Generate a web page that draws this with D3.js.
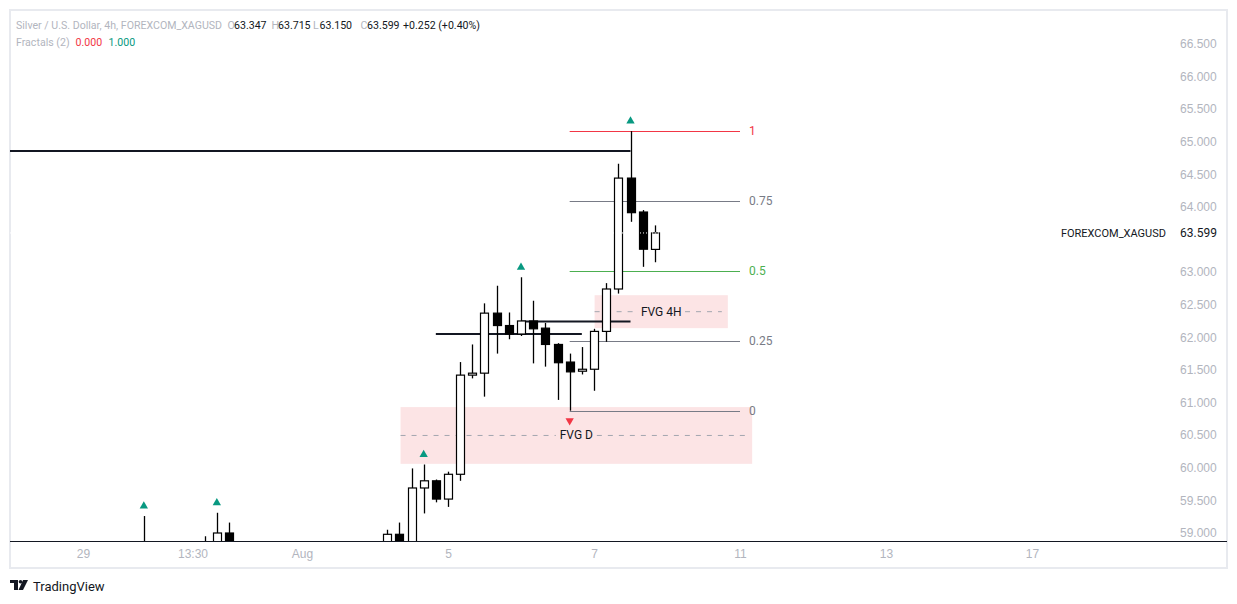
<!DOCTYPE html>
<html>
<head>
<meta charset="utf-8">
<script src="https://cdn.jsdelivr.net/npm/d3@7"></script>
<style>
  body { margin: 0; background: #fff; }
  svg { display: block; font-family: Roboto, "Liberation Sans", sans-serif; }
</style>
</head>
<body>
<div id="chart"></div>
<script>
// 4h candles, index = bar number counted from Jul 29 00:00 (weekends skipped)
var barIndex = [5, 10, 11, 12, 25, 26, 27, 28, 29, 30, 31, 32, 33, 34, 35, 36, 37, 38, 39, 40, 41, 42, 43, 44, 45, 46, 47];
var opens  = [58.60, 58.70, 58.80, 59.00, 58.80, 58.98, 58.85, 59.69, 59.80, 59.52, 59.90, 61.42, 61.45, 62.37, 62.18, 62.05, 62.25, 62.14, 61.89, 61.62, 61.48, 61.51, 62.09, 62.74, 64.44, 63.92, 63.347];
var highs  = [59.26, 58.95, 59.31, 59.16, 59.05, 59.16, 59.99, 60.05, 59.82, 59.94, 61.62, 61.89, 62.52, 62.79, 62.38, 62.92, 62.56, 62.22, 61.91, 61.75, 61.85, 62.13, 62.83, 64.66, 65.16, 63.95, 63.715];
var lows   = [58.40, 58.50, 58.60, 58.60, 58.70, 58.70, 58.75, 59.30, 59.47, 59.40, 59.80, 61.37, 61.09, 61.75, 61.97, 62.02, 61.60, 61.55, 61.04, 60.875, 61.43, 61.18, 61.93, 62.67, 63.77, 63.08, 63.150];
var closes = [58.70, 58.65, 59.00, 58.80, 58.98, 58.80, 59.69, 59.80, 59.52, 59.90, 61.42, 61.45, 62.37, 62.18, 62.05, 62.25, 62.13, 61.89, 61.61, 61.47, 61.51, 62.09, 62.74, 64.44, 63.91, 63.35, 63.599];

// Fractals (2)
var fractalUp = [5, 11, 28, 36, 45];
var fractalDown = [40];

// horizontal rays: start bar, end bar, price
var levelStart = [-8, 29, 36];
var levelEnd   = [45, 41, 45];
var levelPrice = [64.855, 62.05, 62.24];

// fib retracement from the swing low to the swing high
var fibLow = 60.875, fibHigh = 65.16;
var fibStartBar = 40, fibEndBar = 54;
var fibRatios = [0, 0.25, 0.5, 0.75, 1];
var fibLabels = ["0", "0.25", "0.5", "0.75", "1"];
var fibColors = ["#787b86", "#787b86", "#4caf50", "#787b86", "#f23645"];

// fair value gaps
var fvgNames = ["FVG D", "FVG 4H"];
var fvgStart = [26.1, 42.05];
var fvgEnd   = [55, 53];
var fvgTop   = [60.93, 62.645];
var fvgBottom = [60.06, 62.14];

var priceTicks = [59, 59.5, 60, 60.5, 61, 61.5, 62, 62.5, 63, 63.5, 64, 64.5, 65, 65.5, 66, 66.5];
var timeTickBars = [0, 9, 18, 30, 42, 54, 66, 78];
var timeTickLabels = ["29", "13:30", "Aug", "5", "7", "11", "13", "17"];

var lastPrice = 63.599;
var symbol = "FOREXCOM_XAGUSD";

// legend texts
var titleText = "Silver / U.S. Dollar, 4h, FOREXCOM_XAGUSD";
var ohlcKeys = ["O", "H", "L", "C"];
var ohlcVals = ["63.347", "63.715", "63.150", "63.599"];
var changeText = "+0.252 (+0.40%)";
var fractalName = "Fractals (2)";
var fractalVals = ["0.000", "1.000"];

var W = 1237, H = 604;
var frame = {left: 10, top: 10, right: 1227, bottom: 568};
var plot = {left: 10, top: 10, right: 1172, bottom: 541};

var svg = d3.select("#chart").append("svg").attr("width", W).attr("height", H);

var x = d3.scaleLinear().domain([0, 78]).range([83, 1032]);
var y = d3.scaleLinear().domain([59, 66.5]).range([533, 43.7]);

svg.append("defs").append("clipPath").attr("id", "plotclip")
   .append("rect")
   .attr("x", plot.left).attr("y", plot.top)
   .attr("width", plot.right - plot.left).attr("height", plot.bottom - plot.top);

// outer frame
svg.append("rect")
   .attr("x", frame.left).attr("y", frame.top)
   .attr("width", frame.right - frame.left).attr("height", frame.bottom - frame.top)
   .attr("fill", "#fff").attr("stroke", "#e8eaef").attr("stroke-width", 2);

var g = svg.append("g").attr("clip-path", "url(#plotclip)");

// FVG boxes
fvgNames.forEach(function(name, i) {
   g.append("rect")
    .attr("x", x(fvgStart[i])).attr("y", y(fvgTop[i]))
    .attr("width", x(fvgEnd[i]) - x(fvgStart[i]))
    .attr("height", y(fvgBottom[i]) - y(fvgTop[i]))
    .attr("fill", "#fce4e5");
   var mid = (fvgTop[i] + fvgBottom[i]) / 2;
   var cx = (x(fvgStart[i]) + x(fvgEnd[i])) / 2;
   var tw = name.length * 6.6;
   [[x(fvgStart[i]), cx - tw / 2 - 4], [cx + tw / 2 + 4, x(fvgEnd[i]) - 6]].forEach(function(seg) {
      g.append("line")
       .attr("x1", seg[0]).attr("x2", seg[1])
       .attr("y1", y(mid)).attr("y2", y(mid))
       .attr("stroke", "#a3a6af").attr("stroke-dasharray", "5,6");
   });
   g.append("text")
    .attr("x", cx).attr("y", y(mid) + 4)
    .attr("text-anchor", "middle").attr("font-size", 12)
    .attr("fill", "#131722").text(name);
});

// fib levels
fibRatios.forEach(function(r, i) {
   var p = fibLow + (fibHigh - fibLow) * r;
   g.append("line")
    .attr("x1", x(fibStartBar)).attr("x2", x(fibEndBar))
    .attr("y1", Math.round(y(p)) + 0.5).attr("y2", Math.round(y(p)) + 0.5)
    .attr("stroke", fibColors[i]).attr("stroke-width", 1);
   g.append("text")
    .attr("x", x(fibEndBar) + 9).attr("y", y(p) + 4)
    .attr("font-size", 12).attr("fill", fibColors[i])
    .text(fibLabels[i]);
});

// thick horizontal levels
levelPrice.forEach(function(p, i) {
   g.append("line")
    .attr("x1", x(levelStart[i])).attr("x2", x(levelEnd[i]))
    .attr("y1", y(p)).attr("y2", y(p))
    .attr("stroke", "#131722").attr("stroke-width", 2);
});

// candles
var bw = 8;
barIndex.forEach(function(b, i) {
   var cx = Math.round(x(b)) + 0.5;
   var up = closes[i] >= opens[i];
   var top = y(Math.max(opens[i], closes[i])), bot = y(Math.min(opens[i], closes[i]));
   g.append("line")
    .attr("x1", cx).attr("x2", cx)
    .attr("y1", y(highs[i])).attr("y2", y(lows[i]))
    .attr("stroke", "#000").attr("stroke-width", 1.3);
   g.append("rect")
    .attr("x", cx - bw / 2).attr("y", top)
    .attr("width", bw).attr("height", Math.max(1.5, bot - top))
    .attr("fill", up ? "#fff" : "#000")
    .attr("stroke", "#000").attr("stroke-width", 1.2);
});

// last price dotted line
g.append("line")
 .attr("x1", plot.left).attr("x2", plot.right)
 .attr("y1", y(lastPrice)).attr("y2", y(lastPrice))
 .attr("stroke", "#fff").attr("stroke-width", 1).attr("stroke-dasharray", "1,2");

// fractal markers
var tri = d3.symbol().type(d3.symbolTriangle).size(30);
fractalUp.forEach(function(b) {
   var i = barIndex.indexOf(b);
   g.append("path").attr("d", tri)
    .attr("transform", "translate(" + x(b) + "," + (y(highs[i]) - 10) + ")")
    .attr("fill", "#089981");
});
fractalDown.forEach(function(b) {
   var i = barIndex.indexOf(b);
   g.append("path").attr("d", tri)
    .attr("transform", "translate(" + x(b) + "," + (y(lows[i]) + 10) + ") rotate(180)")
    .attr("fill", "#f23645");
});

// bottom axis line
svg.append("line")
   .attr("x1", plot.left).attr("x2", frame.right)
   .attr("y1", plot.bottom + 0.5).attr("y2", plot.bottom + 0.5)
   .attr("stroke", "#131722").attr("stroke-width", 1);

// time axis
var xAxis = d3.axisBottom(x)
   .tickValues(timeTickBars)
   .tickFormat(function(d, i) { return timeTickLabels[i]; })
   .tickSize(0).tickPadding(8);
var xg = svg.append("g").attr("transform", "translate(0," + plot.bottom + ")").call(xAxis);
xg.select(".domain").remove();
xg.selectAll("text").attr("fill", "#b2b5be").attr("font-size", 12).attr("font-family", null);

// price axis (the tick hidden behind the last price label is left out)
var yAxis = d3.axisRight(y)
   .tickValues(priceTicks.filter(function(p) { return Math.abs(y(p) - y(lastPrice)) > 12; }))
   .tickFormat(d3.format(".3f"))
   .tickSize(0).tickPadding(0);
var yg = svg.append("g").attr("transform", "translate(1180,0)").call(yAxis);
yg.select(".domain").remove();
yg.selectAll("text").attr("fill", "#b2b5be").attr("font-size", 12).attr("font-family", null);

// last price label
svg.append("text")
   .attr("x", 1180).attr("y", y(lastPrice) + 4)
   .attr("font-size", 12).attr("fill", "#131722").text(d3.format(".3f")(lastPrice));
svg.append("text")
   .attr("x", 1166).attr("y", y(lastPrice) + 4)
   .attr("text-anchor", "end")
   .attr("font-size", 11).attr("fill", "#131722").text(symbol);

// legend
var grey = "#b2b5be", ink = "#131722";
var head = svg.append("g").attr("font-size", 10.6);
head.append("text").attr("x", 16).attr("y", 29).attr("fill", grey).text(titleText);
var keyX = [227.5, 271.5, 313, 360.5];
ohlcKeys.forEach(function(k, i) {
   head.append("text").attr("x", keyX[i]).attr("y", 29).attr("fill", grey).text(k);
   head.append("text").attr("x", keyX[i] + 6.5).attr("y", 29).attr("fill", ink).text(ohlcVals[i]);
});
head.append("text").attr("x", 403).attr("y", 29).attr("fill", ink).text(changeText);
head.append("text").attr("x", 16).attr("y", 46).attr("fill", grey).text(fractalName);
head.append("text").attr("x", 75.5).attr("y", 46).attr("fill", "#f23645").text(fractalVals[0]);
head.append("text").attr("x", 108.5).attr("y", 46).attr("fill", "#089981").text(fractalVals[1]);

// TradingView logo
var logo = svg.append("g").attr("transform", "translate(10,580)");
logo.append("path").attr("d", "M0,0 H8 V10 H4 V3 H0 Z").attr("fill", ink);
logo.append("circle").attr("cx", 10.5).attr("cy", 1.7).attr("r", 1.8).attr("fill", ink);
logo.append("path").attr("d", "M13,0 H18 L13,10 H8.5 Z").attr("fill", ink);
svg.append("text").attr("x", 33).attr("y", 591)
   .attr("font-size", 13).attr("fill", ink).text("TradingView");
</script>
</body>
</html>
